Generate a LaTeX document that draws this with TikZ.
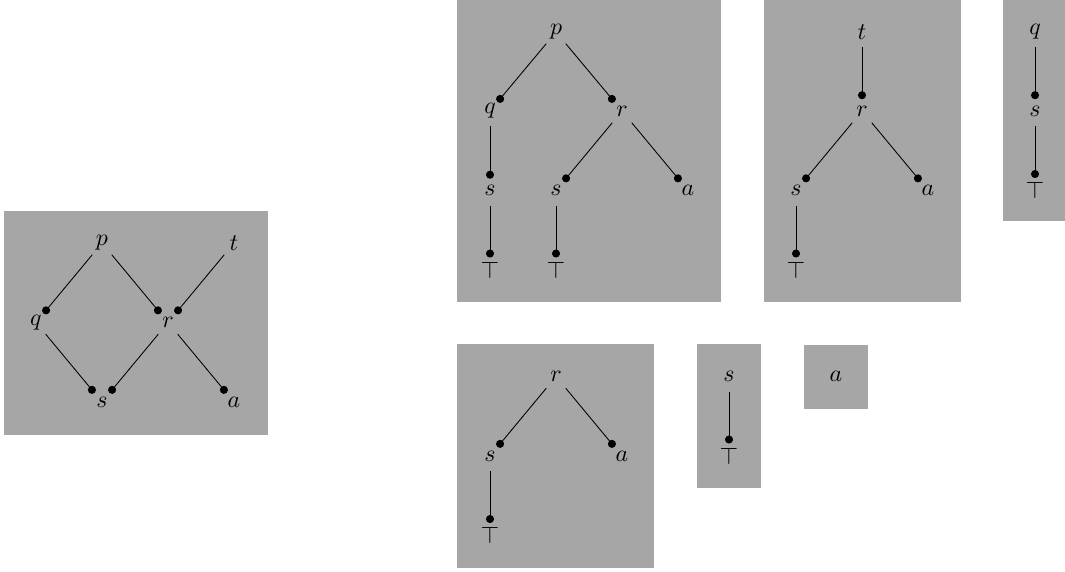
\documentclass[tikz,border=0pt]{standalone}
\usetikzlibrary{arrows.meta}
\begin{document}
\begin{tikzpicture}[x=0.4587pt,y=-0.4587pt,
  lbl/.style={circle, inner sep=1pt, minimum size=13.6pt, font=\fontsize{11}{13}\selectfont},
  edge/.style={-{Circle}, line width=0.4pt, shorten >=-1.6pt},
  panel/.style={fill=black!35, draw=none}]
\useasboundingbox (0,0) rectangle (1065,572);
% panels
\fill[panel] (4,211) rectangle (268,435);
\fill[panel] (457,0) rectangle (721,302);
\fill[panel] (764,0) rectangle (961,302);
\fill[panel] (1003,0) rectangle (1065,221);
\fill[panel] (457,344) rectangle (654,568);
\fill[panel] (697,344) rectangle (761,488);
\fill[panel] (804,345) rectangle (868,409);
% panel A
\node[lbl] (Ap) at (102,243) {$p$};
\node[lbl] (At) at (234,243) {$t$};
\node[lbl] (Aq) at (36,322.5) {$q$};
\node[lbl] (Ar) at (168,322.5) {$r$};
\node[lbl] (As) at (102,402) {$s$};
\node[lbl] (Aa) at (234,402) {$a$};
\draw[edge] (Ap) -- (Aq);
\draw[edge] (Ap) -- (Ar);
\draw[edge] (At) -- (Ar);
\draw[edge] (Aq) -- (As);
\draw[edge] (Ar) -- (As);
\draw[edge] (Ar) -- (Aa);
% panel B
\node[lbl] (Bp) at (556,32) {$p$};
\node[lbl] (Bq) at (490,111) {$q$};
\node[lbl] (Br) at (622,111) {$r$};
\node[lbl] (Bs1) at (490,190.5) {$s$};
\node[lbl] (Bs2) at (556,190.5) {$s$};
\node[lbl] (Ba) at (688,190.5) {$a$};
\node[lbl] (BT1) at (490,270) {$\top$};
\node[lbl] (BT2) at (556,270) {$\top$};
\draw[edge] (Bp) -- (Bq);
\draw[edge] (Bp) -- (Br);
\draw[edge] (Bq) -- (Bs1);
\draw[edge] (Br) -- (Bs2);
\draw[edge] (Br) -- (Ba);
\draw[edge] (Bs1) -- (BT1);
\draw[edge] (Bs2) -- (BT2);
% panel C
\node[lbl] (Ct) at (862,32) {$t$};
\node[lbl] (Cr) at (862,111) {$r$};
\node[lbl] (Cs) at (796,190.5) {$s$};
\node[lbl] (Ca) at (928,190.5) {$a$};
\node[lbl] (CT) at (796,270) {$\top$};
\draw[edge] (Ct) -- (Cr);
\draw[edge] (Cr) -- (Cs);
\draw[edge] (Cr) -- (Ca);
\draw[edge] (Cs) -- (CT);
% panel D
\node[lbl] (Dq) at (1035,32) {$q$};
\node[lbl] (Ds) at (1035,111) {$s$};
\node[lbl] (DT) at (1035,190.5) {$\top$};
\draw[edge] (Dq) -- (Ds);
\draw[edge] (Ds) -- (DT);
% panel E
\node[lbl] (Er) at (556,376.5) {$r$};
\node[lbl] (Es) at (490,456) {$s$};
\node[lbl] (Ea) at (622,456) {$a$};
\node[lbl] (ET) at (490,535.5) {$\top$};
\draw[edge] (Er) -- (Es);
\draw[edge] (Er) -- (Ea);
\draw[edge] (Es) -- (ET);
% panel F
\node[lbl] (Fs) at (729,376.5) {$s$};
\node[lbl] (FT) at (729,456) {$\top$};
\draw[edge] (Fs) -- (FT);
% panel G
\node[lbl] (Ga) at (836,376.5) {$a$};
\end{tikzpicture}
\end{document}
